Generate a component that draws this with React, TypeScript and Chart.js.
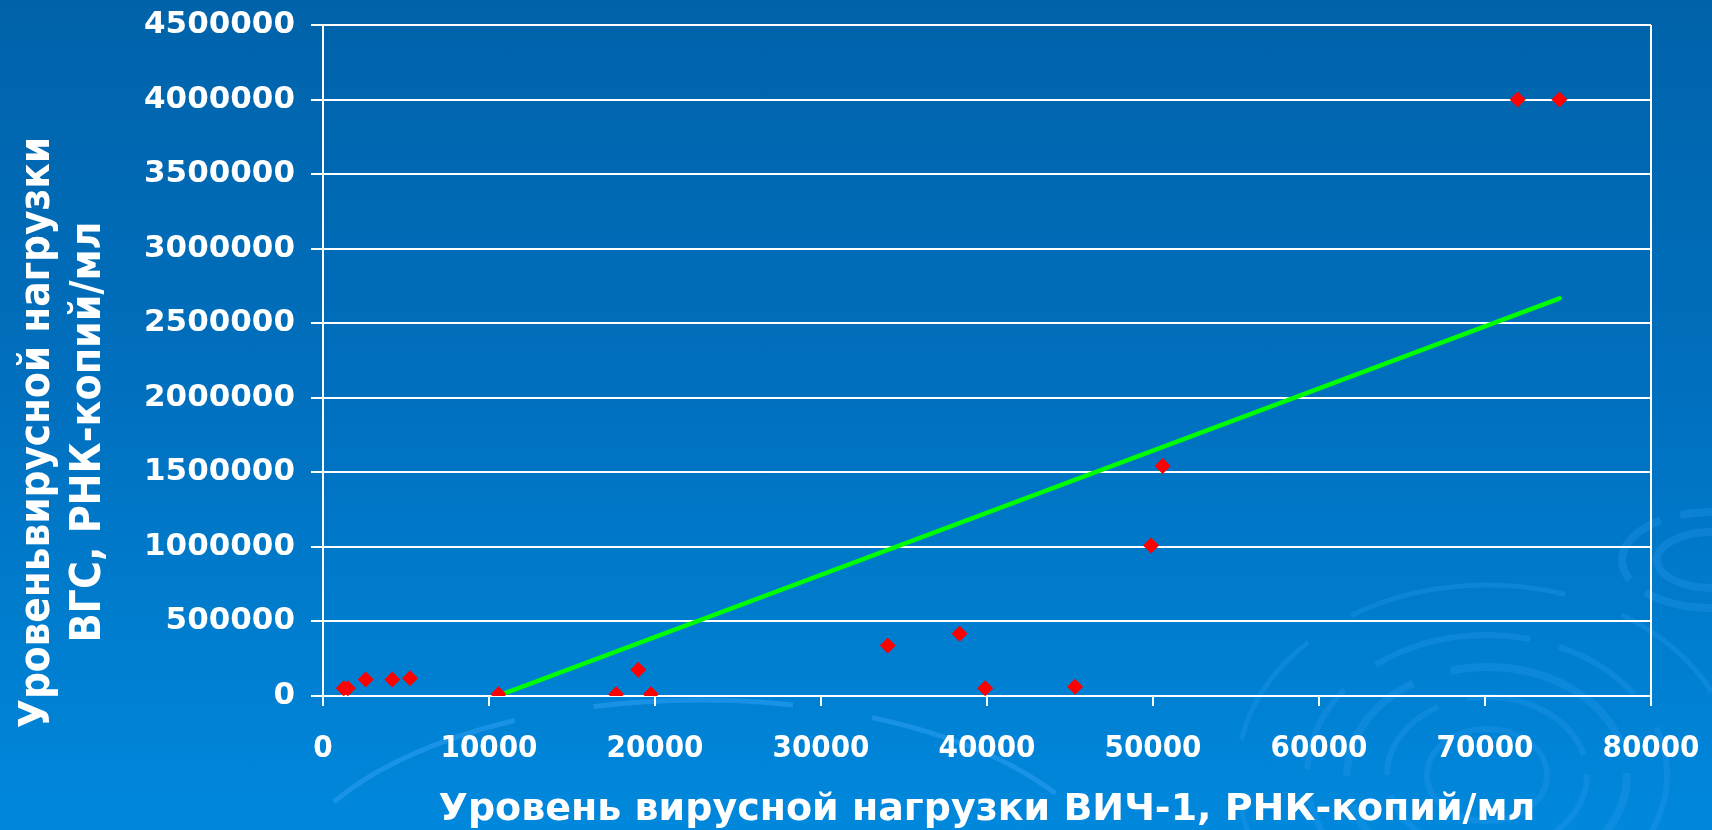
import React, { useEffect, useRef } from 'react';
import { Chart, registerables } from 'chart.js';

Chart.register(...registerables);

// HIV-1 viral load (x) vs HCV viral load (y), RNA copies/ml
const hivLoad = [1250, 1500, 2570, 4170, 5240, 10570, 17660, 18990, 19750, 34020, 38350, 39890, 45300, 49880, 50580, 71970, 74480];
const hcvLoad = [52000, 52000, 110000, 110000, 119000, 12000, 12000, 176000, 12000, 339000, 417000, 52000, 62000, 1010000, 1542000, 4000000, 4000000];

// linear trend line endpoints (visible part)
const trendX = [10500, 74500];
const trendY = [0, 2667000];

const xTickValues = [0, 10000, 20000, 30000, 40000, 50000, 60000, 70000, 80000];
const yTickValues = [0, 500000, 1000000, 1500000, 2000000, 2500000, 3000000, 3500000, 4000000, 4500000];

const xTitle = 'Уровень вирусной нагрузки ВИЧ-1, РНК-копий/мл';
const yTitleLines = ['Уровеньвирусной нагрузки', 'ВГС, РНК-копий/мл'];

const FONT = '"DejaVu Sans", Verdana, sans-serif';

const yTitlePlugin = {
  id: 'yTitlePlugin',
  afterDraw(chart: any) {
    const ctx = chart.ctx;
    ctx.save();
    ctx.fillStyle = '#ffffff';
    ctx.font = `bold 43px ${FONT}`;
    ctx.textAlign = 'center';
    ctx.textBaseline = 'alphabetic';
    const targets = [
      { text: yTitleLines[0], x: 49, y: 432.5, len: 591 },
      { text: yTitleLines[1], x: 100, y: 432, len: 421 },
    ];
    for (const t of targets) {
      const w = ctx.measureText(t.text).width;
      ctx.save();
      ctx.translate(t.x, t.y);
      ctx.rotate(-Math.PI / 2);
      ctx.scale(t.len / w, 1);
      ctx.fillText(t.text, 0, 0);
      ctx.restore();
    }
    ctx.restore();
  },
};

const zeroPad = (scale: any) => {
  scale.paddingTop = 0;
  scale.paddingBottom = 0;
  scale.paddingLeft = 0;
  scale.paddingRight = 0;
};

export default function App() {
  const canvasRef = useRef<HTMLCanvasElement | null>(null);

  useEffect(() => {
    if (!canvasRef.current) return;
    const points = hivLoad.map((x, i) => ({ x, y: hcvLoad[i] }));
    const trend = trendX.map((x, i) => ({ x, y: trendY[i] }));
    const chart = new Chart(canvasRef.current, {
      type: 'scatter',
      data: {
        datasets: [
          {
            type: 'line',
            data: trend,
            borderColor: '#00ff00',
            borderWidth: 4.5,
            borderCapStyle: 'round',
            pointRadius: 0,
            fill: false,
            showLine: true,
            order: 2,
          } as any,
          {
            data: points,
            pointStyle: 'rectRot',
            pointRadius: 8,
            pointBackgroundColor: '#ff0000',
            pointBorderColor: '#ff0000',
            pointBorderWidth: 0,
            order: 1,
          },
        ],
      },
      options: {
        animation: false,
        responsive: true,
        maintainAspectRatio: false,
        layout: { padding: { left: 0, right: 61, top: 25, bottom: 0 } },
        plugins: { legend: { display: false }, tooltip: { enabled: false } },
        scales: {
          x: {
            type: 'linear',
            min: 0,
            max: 80000,
            afterBuildTicks: (scale: any) => {
              scale.ticks = xTickValues.map((v) => ({ value: v }));
            },
            afterFit: (scale: any) => {
              scale.height = 134;
              zeroPad(scale);
            },
            ticks: {
              color: '#ffffff',
              font: { family: '"DejaVu Sans Condensed", "DejaVu Sans", sans-serif', weight: 'bold', size: 31 },
              padding: 24,
              maxRotation: 0,
              callback: (v: any) => String(v),
            },
            grid: {
              color: (c: any) => (c.tick && c.tick.value === 80000 ? '#ffffff' : 'rgba(0,0,0,0)'),
              tickColor: '#ffffff',
              lineWidth: 2,
              tickLength: 10,
              drawOnChartArea: true,
            },
            border: { display: true, color: '#ffffff', width: 2 },
            title: {
              display: true,
              text: xTitle,
              color: '#ffffff',
              font: { family: FONT, weight: 'bold', size: 38, lineHeight: 1 },
              padding: { top: 0, bottom: 1 },
            },
          },
          y: {
            type: 'linear',
            min: 0,
            max: 4500000,
            afterBuildTicks: (scale: any) => {
              scale.ticks = yTickValues.map((v) => ({ value: v }));
            },
            afterFit: (scale: any) => {
              scale.width = 323;
              zeroPad(scale);
            },
            ticks: {
              color: '#ffffff',
              font: { family: FONT, weight: 'bold', size: 31 },
              padding: 16,
              callback: (v: any) => String(v),
            },
            grid: {
              color: '#ffffff',
              lineWidth: 2,
              tickLength: 12,
            },
            border: { display: true, color: '#ffffff', width: 2 },
          },
        },
      },
      plugins: [yTitlePlugin],
    } as any);
    return () => chart.destroy();
  }, []);

  return (
    <div
      style={{
        position: 'absolute',
        left: 0,
        top: 0,
        width: 1712,
        height: 830,
        overflow: 'hidden',
        background: 'linear-gradient(to bottom, #0063aa 0%, #006fbd 45%, #0088dc 100%)',
      }}
    >
      <svg width={1712} height={830} style={{ position: 'absolute', left: 0, top: 0 }}>
        <g fill="none" stroke="#2a9cf0" strokeOpacity={0.3}>
          <ellipse cx={1487} cy={775} rx={180} ry={140} strokeWidth={6} strokeDasharray="160 30 90 40" />
          <ellipse cx={1487} cy={775} rx={140} ry={108} strokeWidth={8} strokeDasharray="120 40 200 30" />
          <ellipse cx={1487} cy={775} rx={100} ry={78} strokeWidth={6} strokeDasharray="90 30 140 20" />
          <ellipse cx={1487} cy={775} rx={60} ry={46} strokeWidth={6} />
          <ellipse cx={1487} cy={775} rx={250} ry={190} strokeWidth={5} strokeDasharray="220 60 120 50" />
          <ellipse cx={1712} cy={560} rx={90} ry={48} strokeWidth={8} strokeDasharray="80 20" />
          <ellipse cx={1712} cy={560} rx={55} ry={28} strokeWidth={8} />
          <ellipse cx={700} cy={900} rx={420} ry={200} strokeWidth={5} strokeOpacity={0.6} strokeDasharray="200 80" />
        </g>
      </svg>
      <canvas ref={canvasRef} style={{ position: 'absolute', left: 0, top: 0 }} />
    </div>
  );
}
